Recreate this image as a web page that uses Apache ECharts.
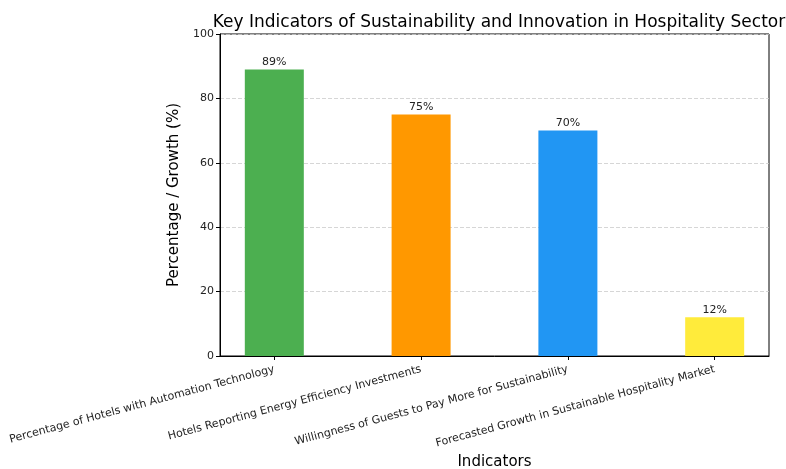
<!DOCTYPE html>
<html>
<head>
<meta charset="utf-8">
<script src="https://cdn.jsdelivr.net/npm/echarts@6/dist/echarts.min.js"></script>
<style>html,body{margin:0;padding:0;background:#fff}#c{width:786px;height:469px}</style>
</head>
<body>
<div id="c"></div>
<script>
const categories = [
  "Percentage of Hotels with Automation Technology",
  "Hotels Reporting Energy Efficiency Investments",
  "Willingness of Guests to Pay More for Sustainability",
  "Forecasted Growth in Sustainable Hospitality Market"
];
const values = [89, 75, 70, 12];
const colors = ["#4caf50", "#ff9800", "#2196f3", "#ffeb3b"];
const yTicks = [0, 20, 40, 60, 80, 100];

const font = "DejaVu Sans";
const chart = echarts.init(document.getElementById('c'), null, {renderer: 'canvas'});
const positions = categories.map((_, i) => i);
chart.setOption({
  animation: false,
  backgroundColor: '#fff',
  title: {
    text: 'Key Indicators of Sustainability and Innovation in Hospitality Sector',
    left: 494, top: 9, textAlign: 'center',
    textStyle: {fontFamily: font, fontSize: 17, fontWeight: 'normal', color: '#000'}
  },
  grid: {left: 220, right: 17, top: 34, bottom: 113, show: true, borderColor: '#000', borderWidth: 1,
    backgroundColor: 'transparent', outerBoundsMode: 'none', containLabel: false},
  xAxis: {
    type: 'value', min: -0.37, max: 3.37,
    name: 'Indicators', nameLocation: 'middle', nameGap: 99,
    nameTextStyle: {fontFamily: font, fontSize: 15, color: '#000'},
    axisLine: {show: true, onZero: false, lineStyle: {color: '#000'}},
    axisTick: {show: true, customValues: positions, length: 4, lineStyle: {color: '#000'}},
    axisLabel: {
      customValues: positions, rotate: 15, margin: 13,
      fontFamily: font, fontSize: 11, color: '#222',
      formatter: v => categories[Math.round(v)]
    },
    splitLine: {show: false}
  },
  yAxis: {
    type: 'value', min: 0, max: 100, interval: 20,
    name: 'Percentage / Growth (%)', nameLocation: 'middle', nameGap: 32,
    nameTextStyle: {fontFamily: font, fontSize: 15, color: '#000'},
    axisLine: {show: true, onZero: false, lineStyle: {color: '#000'}},
    axisTick: {show: true, length: 4, lineStyle: {color: '#000'}},
    axisLabel: {fontFamily: font, fontSize: 11, color: '#222', margin: 6,
      formatter: v => yTicks.includes(v) ? String(v) : ''},
    splitLine: {show: true, lineStyle: {color: '#cccccc', type: [4, 2], width: 0.8}}
  },
  series: [{
    type: 'bar',
    barWidth: 59,
    data: values.map((v, i) => ({value: [i, v], itemStyle: {color: colors[i]}})),
    label: {show: true, position: 'top', distance: 2, fontFamily: font, fontSize: 11, color: '#222',
      formatter: p => p.value[1] + '%'}
  }]
});
</script>
</body>
</html>
